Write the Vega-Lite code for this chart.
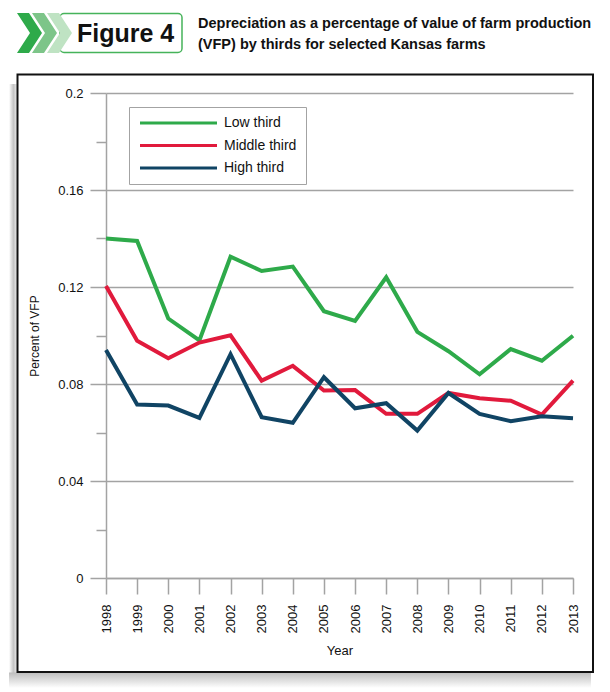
{
  "$schema": "https://vega.github.io/schema/vega-lite/v6.json",
  "width": 467,
  "height": 485,
  "autosize": {"type": "none"},
  "padding": {"left": 106, "top": 93, "right": 37, "bottom": 114},
  "background": "white",
  "title": {
    "text": ["Depreciation as a percentage of value of farm production", "(VFP) by thirds for selected Kansas farms"],
    "anchor": "start",
    "frame": "group",
    "dx": 92,
    "dy": 40,
    "baseline": "top",
    "offset": 0,
    "font": "Liberation Sans",
    "fontSize": 14.5,
    "fontWeight": "bold",
    "lineHeight": 21,
    "color": "#111111"
  },
  "config": {
    "view": {"stroke": null},
    "axis": {"labelFont": "Liberation Sans", "titleFont": "Liberation Sans", "labelColor": "#111111", "titleColor": "#111111"},
    "legend": {"labelFont": "Liberation Sans"}
  },
  "datasets": {
    "vfp": [
      {"year": 1998, "group": "Low third", "share": 0.140},
      {"year": 1999, "group": "Low third", "share": 0.139},
      {"year": 2000, "group": "Low third", "share": 0.107},
      {"year": 2001, "group": "Low third", "share": 0.098},
      {"year": 2002, "group": "Low third", "share": 0.1325},
      {"year": 2003, "group": "Low third", "share": 0.1266},
      {"year": 2004, "group": "Low third", "share": 0.1284},
      {"year": 2005, "group": "Low third", "share": 0.110},
      {"year": 2006, "group": "Low third", "share": 0.106},
      {"year": 2007, "group": "Low third", "share": 0.124},
      {"year": 2008, "group": "Low third", "share": 0.1015},
      {"year": 2009, "group": "Low third", "share": 0.0935},
      {"year": 2010, "group": "Low third", "share": 0.084},
      {"year": 2011, "group": "Low third", "share": 0.0944},
      {"year": 2012, "group": "Low third", "share": 0.0896},
      {"year": 2013, "group": "Low third", "share": 0.0999},
      {"year": 1998, "group": "Middle third", "share": 0.1204},
      {"year": 1999, "group": "Middle third", "share": 0.0978},
      {"year": 2000, "group": "Middle third", "share": 0.0906},
      {"year": 2001, "group": "Middle third", "share": 0.0971},
      {"year": 2002, "group": "Middle third", "share": 0.1001},
      {"year": 2003, "group": "Middle third", "share": 0.0814},
      {"year": 2004, "group": "Middle third", "share": 0.0875},
      {"year": 2005, "group": "Middle third", "share": 0.0773},
      {"year": 2006, "group": "Middle third", "share": 0.0775},
      {"year": 2007, "group": "Middle third", "share": 0.0677},
      {"year": 2008, "group": "Middle third", "share": 0.0677},
      {"year": 2009, "group": "Middle third", "share": 0.0763},
      {"year": 2010, "group": "Middle third", "share": 0.0741},
      {"year": 2011, "group": "Middle third", "share": 0.0731},
      {"year": 2012, "group": "Middle third", "share": 0.0674},
      {"year": 2013, "group": "Middle third", "share": 0.0814},
      {"year": 1998, "group": "High third", "share": 0.094},
      {"year": 1999, "group": "High third", "share": 0.0715},
      {"year": 2000, "group": "High third", "share": 0.0711},
      {"year": 2001, "group": "High third", "share": 0.066},
      {"year": 2002, "group": "High third", "share": 0.0923},
      {"year": 2003, "group": "High third", "share": 0.0663},
      {"year": 2004, "group": "High third", "share": 0.064},
      {"year": 2005, "group": "High third", "share": 0.0828},
      {"year": 2006, "group": "High third", "share": 0.070},
      {"year": 2007, "group": "High third", "share": 0.0721},
      {"year": 2008, "group": "High third", "share": 0.0608},
      {"year": 2009, "group": "High third", "share": 0.0763},
      {"year": 2010, "group": "High third", "share": 0.0677},
      {"year": 2011, "group": "High third", "share": 0.0647},
      {"year": 2012, "group": "High third", "share": 0.0667},
      {"year": 2013, "group": "High third", "share": 0.0659}
    ]
  },
  "resolve": {"axis": {"x": "independent", "y": "independent"}},
  "layer": [
    {
      "description": "soft shadow along the left edge of the frame",
      "data": {"values": [{}]},
      "mark": {
        "type": "rect",
        "color": {"gradient": "linear", "x1": 0, "x2": 1, "y1": 0, "y2": 0,
          "stops": [{"offset": 0, "color": "#ffffff"}, {"offset": 0.55, "color": "#c4c4c4"}, {"offset": 1, "color": "#ececec"}]}
      },
      "encoding": {
        "x": {"datum": 1994.8844, "type": "quantitative", "scale": {"domain": [1998, 2013], "nice": false, "zero": false}, "axis": null},
        "x2": {"datum": 1995.1413},
        "y": {"datum": 0.20371, "type": "quantitative", "scale": {"domain": [0, 0.2], "nice": false}, "axis": null},
        "y2": {"datum": -0.04495}
      }
    },
    {
      "description": "soft shadow along the bottom edge of the frame",
      "data": {"values": [{}]},
      "mark": {
        "type": "rect",
        "color": {"gradient": "linear", "x1": 0, "x2": 0, "y1": 0, "y2": 1,
          "stops": [{"offset": 0, "color": "#bdbdbd"}, {"offset": 1, "color": "#ffffff"}]}
      },
      "encoding": {
        "x": {"datum": 1994.8844, "type": "quantitative", "axis": null},
        "x2": {"datum": 2013.578},
        "y": {"datum": -0.03897, "type": "quantitative", "axis": null},
        "y2": {"datum": -0.04536}
      }
    },
    {
      "description": "frame around the chart; carries the minor y ticks",
      "data": {"values": [{}]},
      "mark": {"type": "rect", "fillOpacity": 0, "stroke": "#111111", "strokeWidth": 2},
      "encoding": {
        "x": {"datum": 1995.1574, "type": "quantitative", "axis": null},
        "x2": {"datum": 2013.6424},
        "y": {
          "datum": 0.20763,
          "type": "quantitative",
          "axis": {
            "orient": "left",
            "values": [0.02, 0.06, 0.1, 0.14, 0.18],
            "labels": false,
            "domain": false,
            "grid": false,
            "title": null,
            "ticks": true,
            "tickSize": 10,
            "tickColor": "#a3a3a3",
            "tickWidth": 1.5
          }
        },
        "y2": {"datum": -0.03876}
      }
    },
    {
      "description": "figure badge",
      "data": {"values": [{}]},
      "mark": {"type": "rect", "fill": "white", "stroke": "#46b35a", "strokeWidth": 1.5, "cornerRadius": 4},
      "encoding": {
        "x": {"datum": 1996.5225, "type": "quantitative", "axis": null},
        "x2": {"datum": 2000.4411},
        "y": {"datum": 0.23278, "type": "quantitative", "axis": null},
        "y2": {"datum": 0.2167}
      }
    },
    {
      "data": {"values": [{}]},
      "mark": {"type": "point", "filled": true, "opacity": 1, "strokeWidth": 0, "color": "#2eaa4a",
        "shape": "M-0.625,-1 L-0.025,-1 L0.625,0 L-0.025,1 L-0.625,1 L0.025,0 Z", "size": 1600},
      "encoding": {
        "x": {"datum": 1995.5428, "type": "quantitative", "axis": null},
        "y": {"datum": 0.22474, "type": "quantitative", "axis": null}
      }
    },
    {
      "data": {"values": [{}]},
      "mark": {"type": "point", "filled": true, "opacity": 1, "strokeWidth": 0, "color": "#7dc589",
        "shape": "M-0.625,-1 L-0.025,-1 L0.625,0 L-0.025,1 L-0.625,1 L0.025,0 Z", "size": 1600},
      "encoding": {
        "x": {"datum": 1996.0246, "type": "quantitative", "axis": null},
        "y": {"datum": 0.22474, "type": "quantitative", "axis": null}
      }
    },
    {
      "data": {"values": [{}]},
      "mark": {"type": "point", "filled": true, "opacity": 1, "strokeWidth": 0, "color": "#bfe3c3",
        "shape": "M-0.625,-1 L-0.025,-1 L0.625,0 L-0.025,1 L-0.625,1 L0.025,0 Z", "size": 1600},
      "encoding": {
        "x": {"datum": 1996.5064, "type": "quantitative", "axis": null},
        "y": {"datum": 0.22474, "type": "quantitative", "axis": null}
      }
    },
    {
      "data": {"values": [{}]},
      "mark": {"type": "text", "text": "Figure 4", "font": "Liberation Sans", "fontWeight": "bold", "fontSize": 25, "align": "left", "baseline": "alphabetic", "color": "#111111"},
      "encoding": {
        "x": {"datum": 1997.0685, "type": "quantitative", "axis": null},
        "y": {"datum": 0.22103, "type": "quantitative", "axis": null}
      }
    },
    {
      "data": {"name": "vfp"},
      "mark": {"type": "line", "strokeWidth": 4, "strokeJoin": "miter"},
      "encoding": {
        "x": {
          "field": "year",
          "type": "quantitative",
          "axis": {
            "values": [1998, 1999, 2000, 2001, 2002, 2003, 2004, 2005, 2006, 2007, 2008, 2009, 2010, 2011, 2012, 2013],
            "format": "d",
            "labelAngle": 270,
            "labelFontSize": 13,
            "labelPadding": 10,
            "tickSize": 16,
            "tickWidth": 1.5,
            "tickColor": "#a3a3a3",
            "domainColor": "#a3a3a3",
            "domainWidth": 1.5,
            "grid": false,
            "title": "Year",
            "titleFontSize": 13,
            "titleFontWeight": "normal",
            "titlePadding": 12
          }
        },
        "y": {
          "field": "share",
          "type": "quantitative",
          "axis": {
            "orient": "left",
            "values": [0, 0.04, 0.08, 0.12, 0.16, 0.2],
            "format": "~g",
            "labelFontSize": 13,
            "labelPadding": 7,
            "tickSize": 16,
            "tickWidth": 1.5,
            "tickColor": "#a3a3a3",
            "domainColor": "#a3a3a3",
            "domainWidth": 1.5,
            "grid": true,
            "gridColor": "#a3a3a3",
            "gridWidth": 1.5,
            "title": "Percent of VFP",
            "titleFontSize": 12,
            "titleFontWeight": "normal",
            "titlePadding": 16
          }
        },
        "color": {
          "field": "group",
          "type": "nominal",
          "scale": {"domain": ["Low third", "Middle third", "High third"], "range": ["#2eaa4a", "#e11a3c", "#104464"]},
          "legend": {
            "orient": "none",
            "legendX": 23,
            "legendY": 14,
            "title": null,
            "symbolType": "M-1,0 L14.4,0",
            "symbolSize": 100,
            "symbolStrokeWidth": 3,
            "labelFontSize": 14,
            "labelColor": "#111111",
            "labelOffset": 72,
            "rowPadding": 8.5,
            "padding": 9,
            "strokeColor": "#a3a3a3",
            "fillColor": "white"
          }
        }
      }
    }
  ]
}
